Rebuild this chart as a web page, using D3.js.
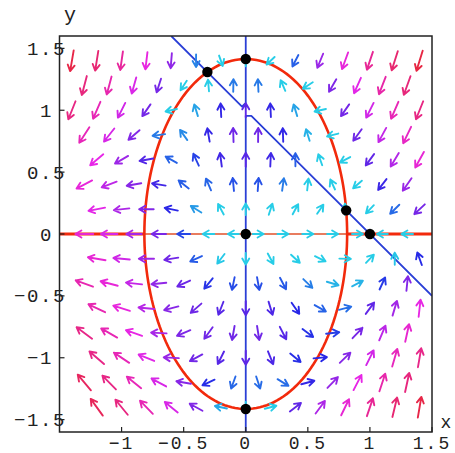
<!DOCTYPE html>
<html><head><meta charset="utf-8">
<script src="https://cdn.jsdelivr.net/npm/d3@7"></script>
<style>body{margin:0;background:#fff}svg{display:block}</style></head>
<body>
<svg id="c" width="455" height="453"></svg>
<script>
// ---- data ----
const X_TICKS = [-1, -0.5, 0, 0.5, 1, 1.5];
const Y_TICKS = [1.5, 1, 0.5, 0, -0.5, -1, -1.5];
const ROW_Y   = [1.4, 1.2, 1.0, 0.8, 0.6, 0.4, 0.2, 0, -0.2, -0.4, -0.6, -0.8, -1.0, -1.2, -1.4];
const X_FULL  = [-1.4, -1.2, -1.0, -0.8, -0.6, -0.4, -0.2, 0, 0.2, 0.4, 0.6, 0.8, 1.0, 1.2, 1.4];
const X_HALF  = [-1.3, -1.1, -0.9, -0.7, -0.5, -0.3, -0.1, 0.1, 0.3, 0.5, 0.7, 0.9, 1.1, 1.3];
const EQUILIBRIA = [[0, 0], [0, 1.4142], [0, -1.4142], [1, 0], [-0.309, 1.309], [0.809, 0.191]];
const ELLIPSE_AXES = [0.8165, 1.4142];          // red nullcline  1.5x^2 + 0.5y^2 = 1
const BLUE_UPPER = [[-0.6, 1.6], [-0.03, 1.03], [0, 1.06], [0, 1.6]];
const BLUE_LOWER = [[0, -1.6], [0, 0.955], [0.045, 0.955], [1.5, -0.5]];
// system x' = x(1 - x - y),  y' = y(2 - 3x^2 - y^2)
const COEF_X = [1, 1, 1];
const COEF_Y = [2, 3, 1];
const field = (x, y) => [COEF_X[0] * x * (1 - COEF_X[1] * x - COEF_X[2] * y),
                         y * (COEF_Y[0] - COEF_Y[1] * x * x - COEF_Y[2] * y * y)];

// ---- layout ----
const svg = d3.select("#c");
const X = d3.scaleLinear().domain([-1.5, 1.5]).range([59.5, 432]);
const Y = d3.scaleLinear().domain([-1.6, 1.6]).range([432, 36]);
const hue = d3.scaleLinear().domain([0.45, 0.75, 1.05, 2.5, 4.4, 9]).range([188, 230, 262, 300, 326, 354]).clamp(true);
const len = d3.scaleLinear().domain([0.2, 1, 3, 8]).range([11, 14, 18, 21]).clamp(true);

svg.append("defs").append("clipPath").attr("id", "pc")
  .append("rect").attr("x", X(-1.5)).attr("y", Y(1.6)).attr("width", X(1.5) - X(-1.5)).attr("height", Y(-1.6) - Y(1.6));
const plot = svg.append("g").attr("clip-path", "url(#pc)");

// ---- nullclines ----
const line = d3.line().x(d => X(d[0])).y(d => Y(d[1]));
const ell = d3.range(0, 361, 2).map(t => [ELLIPSE_AXES[0] * Math.cos(t * Math.PI / 180), ELLIPSE_AXES[1] * Math.sin(t * Math.PI / 180)]);
const RED = "#f22a0c", BLUE = "#2a3fd6";
plot.append("path").attr("d", line([[-1.5, 0], [-ELLIPSE_AXES[0], 0]])).attr("stroke", RED).attr("stroke-width", 3).attr("fill", "none");
plot.append("path").attr("d", line([[ELLIPSE_AXES[0], 0], [1.5, 0]])).attr("stroke", RED).attr("stroke-width", 3).attr("fill", "none");
plot.append("path").attr("d", line([[-ELLIPSE_AXES[0], 0], [ELLIPSE_AXES[0], 0]])).attr("stroke", "#e0502a").attr("stroke-width", 1.5).attr("fill", "none");
plot.append("path").attr("d", line(ell)).attr("stroke", RED).attr("stroke-width", 2.6).attr("fill", "none");
plot.append("path").attr("d", line(BLUE_UPPER)).attr("stroke", BLUE).attr("stroke-width", 1.8).attr("fill", "none").attr("stroke-linejoin", "round");
plot.append("path").attr("d", line(BLUE_LOWER)).attr("stroke", BLUE).attr("stroke-width", 1.8).attr("fill", "none").attr("stroke-linejoin", "round");

// ---- direction field ----
const pts = [];
ROW_Y.forEach((y, i) => (i % 2 === 0 ? X_FULL : X_HALF).forEach(x => pts.push([x, y])));
const ag = plot.append("g").attr("fill", "none").attr("stroke-width", 1.9).attr("stroke-linecap", "round").attr("stroke-linejoin", "round");
const xLo = X(-1.44), xHi = X(1.44);
pts.forEach(([x, y]) => {
  const [vx, vy] = field(x, y);
  const m = Math.hypot(vx, vy);
  if (m < 1e-9) return;
  const L = len(m), ux = vx / m, uy = -vy / m;
  const cx = X(x), cy = Y(y);
  const x0 = cx - ux * L / 2, y0 = cy - uy * L / 2, x1 = cx + ux * L / 2, y1 = cy + uy * L / 2;
  if (x1 < xLo || x1 > xHi) return;
  const a = 0.52, h = 7;
  const bx = -ux, by = -uy;
  const h1x = x1 + h * (bx * Math.cos(a) - by * Math.sin(a)), h1y = y1 + h * (bx * Math.sin(a) + by * Math.cos(a));
  const h2x = x1 + h * (bx * Math.cos(-a) - by * Math.sin(-a)), h2y = y1 + h * (bx * Math.sin(-a) + by * Math.cos(-a));
  ag.append("path")
    .attr("d", `M${x0},${y0}L${x1},${y1}M${h1x},${h1y}L${x1},${y1}L${h2x},${h2y}`)
    .attr("stroke", d3.hsl(hue(m), 0.8, 0.53).formatHex());
});

// ---- equilibria ----
plot.append("g").selectAll("circle").data(EQUILIBRIA).join("circle")
  .attr("cx", d => X(d[0])).attr("cy", d => Y(d[1])).attr("r", 5.2).attr("fill", "#000");

// ---- frame & ticks ----
svg.append("rect").attr("x", X(-1.5)).attr("y", Y(1.6)).attr("width", X(1.5) - X(-1.5)).attr("height", Y(-1.6) - Y(1.6))
  .attr("fill", "none").attr("stroke", "#222").attr("stroke-width", 1.5);
svg.append("g").selectAll("line").data(X_TICKS).join("line")
  .attr("x1", d => X(d)).attr("x2", d => X(d)).attr("y1", Y(-1.6)).attr("y2", Y(-1.6) - 5).attr("stroke", "#222").attr("stroke-width", 1.2);
svg.append("g").selectAll("line").data(Y_TICKS).join("line")
  .attr("y1", d => Y(d)).attr("y2", d => Y(d)).attr("x1", X(-1.5)).attr("x2", X(-1.5) + 5).attr("stroke", "#222").attr("stroke-width", 1.2);

const fmt = v => (v < 0 ? "\u2212" : "") + String(Math.abs(v));
const FONT = "'Liberation Mono', 'DejaVu Sans Mono', monospace";
const ADV = 13;
svg.append("g").attr("font-family", FONT).attr("font-size", 18).attr("fill", "#222")
  .selectAll("text").data(X_TICKS).join("text")
  .attr("x", d => X(d)).attr("y", 449).attr("text-anchor", "middle").attr("letter-spacing", 2)
  .text(fmt);
svg.append("g").attr("font-family", FONT).attr("font-size", 19).attr("fill", "#222")
  .selectAll("text").data(Y_TICKS).join("text")
  .attr("x", d => { const s = fmt(d); const n = s.length + (Number.isInteger(d) ? 1 : 0); return 66 - n * ADV; })
  .attr("y", d => Y(d) + 6.5).attr("letter-spacing", 1.6)
  .text(fmt);
svg.append("text").attr("x", 70).attr("y", 21).attr("text-anchor", "middle").attr("font-family", FONT).attr("font-size", 20).attr("fill", "#222").text("y");
svg.append("text").attr("x", 446).attr("y", 428).attr("text-anchor", "middle").attr("font-family", FONT).attr("font-size", 18).attr("fill", "#222").text("x");
</script>
</body></html>
